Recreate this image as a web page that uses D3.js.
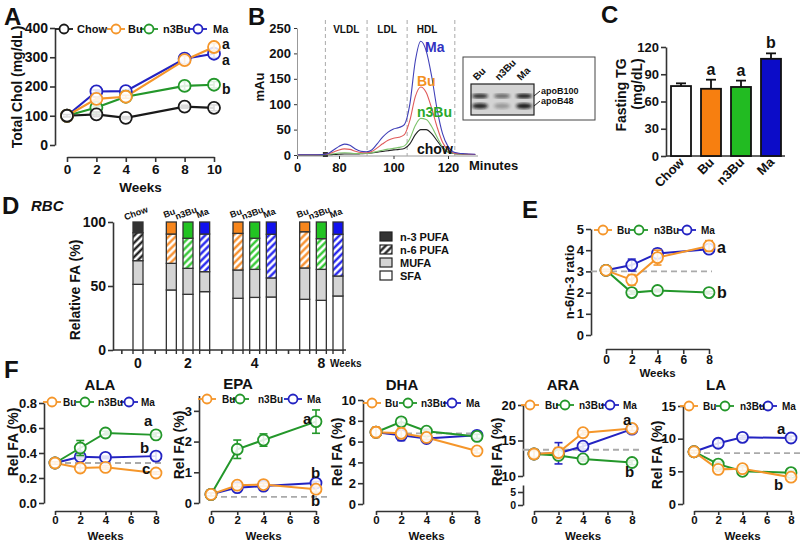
<!DOCTYPE html>
<html><head><meta charset="utf-8">
<script src="https://cdn.jsdelivr.net/npm/d3@7"></script>
<style>
body{margin:0;background:#fff;}
svg text{font-family:Arial,"Liberation Sans",sans-serif;font-weight:bold;}
</style></head><body>
<svg id="c" width="800" height="543"></svg>
<script>
// ---------------- DATA ----------------
// Panel A: total cholesterol
const weeksA = [0, 2, 4, 8, 10];
const cholChow = [100, 105, 93, 131, 127];
const cholBu   = [100, 158, 165, 290, 335];
const cholN3Bu = [100, 128, 165, 202, 206];
const cholMa   = [100, 183, 184, 295, 312];
const cholErrChow = [4, 8, 4, 5, 10];
const cholErrBu   = [4, 6, 5, 14, 12];
const cholErrN3Bu = [4, 5, 5, 15, 11];
const cholErrMa   = [4, 5, 4, 10, 13];

// Panel B: FPLC chromatogram (minutes, mAu)
const minutesB = [65, 70, 74, 76, 78, 80, 82, 84, 86, 88, 90, 92, 94, 96, 98, 100, 102, 104, 106, 108, 110, 112, 114, 116, 118, 120, 122, 124, 126, 130];
const mauMa   = [0.5, 0.5, 1, 3, 10, 17, 21.5, 19, 12, 7.5, 6.5, 10, 22, 35, 45, 51, 54, 60, 100, 185, 224, 205, 155, 90, 42, 17, 6, 3.5, 2.5, 1.5];
const mauBu   = [0.5, 0.5, 1, 2, 6, 10, 12, 11, 7.5, 5, 4.5, 7, 14, 22, 29, 33, 35, 40, 68, 115, 134, 123, 92, 55, 25, 10, 4, 2.5, 2, 1];
const mauN3Bu = [0.3, 0.3, 0.5, 1, 2.5, 4, 4.5, 4, 3, 3, 3, 4.5, 7, 9.5, 11.5, 13, 15, 18, 32, 58, 72, 70, 56, 35, 16, 6, 3, 2, 1.5, 1];
const mauChow = [0.3, 0.3, 0.3, 0.5, 1, 1.5, 2, 2, 2, 2.5, 3, 4, 5.5, 7, 8.5, 10, 11, 13, 22, 40, 50, 50, 42, 28, 14, 6, 3, 2, 1.5, 1];
const fractionLines = [75, 90.3, 105, 122.5];
const fractionNames = ["VLDL", "LDL", "HDL"];
const xTickValsB = [64.6, 80, 100, 120];
const xTickLabelsB = ["0", "80", "100", "120"];
const yTicksB = [0, 50, 100, 150, 200, 250];
const blotLanes = ["Bu", "n3Bu", "Ma"];
const blotApoB100 = [0.85, 0.55, 0.95];
const blotApoB48  = [0.9, 0.3, 0.95];

// Panel C: fasting TG
const groupsC = ["Chow", "Bu", "n3Bu", "Ma"];
const tgMean = [77, 74, 76, 107];
const tgErr  = [3, 10, 7, 6];
const tgLetters = ["", "a", "a", "b"];

// Panel D: RBC fatty acid composition (%)
const weeksD = ["0", "2", "4", "8"];
const barGroupsD = ["Chow", "Bu", "n3Bu", "Ma", "Bu", "n3Bu", "Ma", "Bu", "n3Bu", "Ma"];
const barWeekD   = [0, 2, 2, 2, 4, 4, 4, 8, 8, 8];
const sfaD   = [51.3, 46.9, 43.5, 45.6, 40.4, 41.1, 41.4, 39.6, 38.8, 42.2];
const mufaD  = [18.5, 20.8, 20.3, 15.6, 22.1, 21.9, 14.9, 24.5, 24.2, 15.6];
const n6D    = [21.8, 22.9, 23.5, 29.4, 28.6, 24.3, 34.1, 28.3, 24.0, 32.6];
const n3D    = [8.4, 9.4, 12.7, 9.4, 8.9, 12.7, 9.6, 7.6, 13.0, 9.6];

// Panel E: n-6/n-3 ratio
const weeksF = [0, 2, 4, 8];
const ratioBu   = [3.05, 2.6, 3.65, 4.2];
const ratioN3Bu = [3.05, 2.0, 2.1, 2.0];
const ratioMa   = [3.05, 3.3, 3.85, 4.05];
const ratioErrBu   = [0.05, 0.25, 0.35, 0.25];
const ratioErrN3Bu = [0.05, 0.08, 0.06, 0.06];
const ratioErrMa   = [0.05, 0.28, 0.2, 0.12];

// Panel F: individual fatty acids (Rel FA %)
const alaBu = [0.32, 0.28, 0.285, 0.24], alaN3Bu = [0.32, 0.44, 0.56, 0.545], alaMa = [0.32, 0.37, 0.365, 0.375];
const alaErrBu = [0.01, 0.03, 0.015, 0.01], alaErrN3Bu = [0.01, 0.06, 0.015, 0.015], alaErrMa = [0.01, 0.02, 0.01, 0.035];
const epaBu = [0.28, 0.58, 0.6, 0.45], epaN3Bu = [0.28, 1.75, 2.05, 2.65], epaMa = [0.28, 0.5, 0.55, 0.65];
const epaErrBu = [0.05, 0.05, 0.05, 0.1], epaErrN3Bu = [0.05, 0.3, 0.2, 0.38], epaErrMa = [0.05, 0.05, 0.05, 0.05];
const dhaBu = [6.9, 6.8, 6.4, 5.1], dhaN3Bu = [6.9, 7.9, 7.0, 6.5], dhaMa = [6.9, 6.6, 6.3, 6.6];
const dhaErrBu = [0.5, 0.5, 0.2, 0.2], dhaErrN3Bu = [0.2, 0.35, 0.2, 0.2], dhaErrMa = [0.2, 0.5, 0.2, 0.2];
const araBu = [13.1, 13.3, 16.1, 16.7], araN3Bu = [13.1, 12.9, 12.4, 11.9], araMa = [13.1, 13.2, 14.2, 16.6];
const araErrBu = [0.5, 0.7, 0.3, 0.3], araErrN3Bu = [0.3, 0.3, 0.3, 0.3], araErrMa = [0.3, 1.5, 0.4, 0.3];
const laBu = [8.0, 5.3, 5.4, 4.1], laN3Bu = [8.0, 6.1, 5.0, 4.8], laMa = [8.0, 9.3, 10.2, 10.1];
const laErrBu = [0.2, 0.3, 0.3, 0.3], laErrN3Bu = [0.2, 0.3, 0.3, 0.3], laErrMa = [0.2, 0.6, 0.3, 0.3];

// ---------------- DRAWING ----------------
const svg = d3.select("#c");
const FONT = 'Arial, "Liberation Sans", sans-serif';
const ORANGE = "#f5962a", GREEN = "#23972a", BLUE = "#2323c2", BLACK = "#1a1a1a";
const AX = "#333";

function styleAxis(sel, fs, sw) {
  sel.attr("font-family", FONT).attr("font-size", fs);
  sel.select(".domain").attr("stroke", AX).attr("stroke-width", sw || 1.6);
  sel.selectAll(".tick line").attr("stroke", AX).attr("stroke-width", sw || 1.6);
  sel.selectAll(".tick text").attr("fill", "#111").style("font-weight", "bold");
}
function txt(x, y, s, o) {
  o = o || {};
  const t = svg.append("text").attr("x", x).attr("y", y).text(s)
    .attr("font-size", o.fs || 12).attr("fill", o.fill || "#111")
    .attr("text-anchor", o.anchor || "start");
  if (o.rot) t.attr("transform", `rotate(${o.rot},${x},${y})`);
  if (o.italic) t.attr("font-style", "italic");
  return t;
}
function panelLetter(x, y, s) { txt(x, y, s, { fs: 24 }); }

function linePanel(o) {
  const g = svg.append("g");
  const x = d3.scaleLinear().domain(o.xDomain).range(o.xRange);
  const y = d3.scaleLinear().domain(o.yDomain).range(o.yRange);
  if (o.brokenAxes) {
    o.brokenAxes.forEach(b => {
      const s = d3.scaleLinear().domain(b.domain).range(b.range);
      const a = g.append("g").attr("transform", `translate(${o.yAxisX},0)`)
        .call(d3.axisLeft(s).tickValues(b.ticks).tickSize(5).tickSizeOuter(0).tickPadding(2));
      styleAxis(a, b.fs || o.fs);
    });
  } else {
    const a = g.append("g").attr("transform", `translate(${o.yAxisX},0)`)
      .call(d3.axisLeft(y).tickValues(o.yTicks).tickFormat(o.yFmt || d3.format("d")).tickSize(5).tickSizeOuter(0).tickPadding(2));
    styleAxis(a, o.fs);
  }
  const xa = g.append("g").attr("transform", `translate(0,${o.xAxisY})`)
    .call(d3.axisBottom(x).tickValues(o.xTicks).tickSize(o.xTick || 5).tickSizeOuter(0).tickPadding(o.xPad != null ? o.xPad : 3));
  styleAxis(xa, o.xfs || o.fs);
  txt((o.xRange[0] + o.xRange[1]) / 2, o.weeksY, "Weeks", { fs: o.wfs || 13, anchor: "middle" });
  txt(o.yTitleX, o.yTitleY, o.yTitle, { fs: o.tfs || 13, anchor: "middle", rot: -90 });
  if (o.title) txt(o.title[0], o.title[1], o.title[2], { fs: 15, anchor: "middle" });
  if (o.dash != null) {
    g.append("line").attr("x1", o.dashX[0]).attr("x2", o.dashX[1])
      .attr("y1", y(o.dash)).attr("y2", y(o.dash))
      .attr("stroke", "#aaa").attr("stroke-width", 1.8).attr("stroke-dasharray", "6,4");
  }
  const line = d3.line().x((d, i) => x(o.xs[i])).y(d => y(d));
  o.series.forEach(s => {
    g.append("path").datum(s.values).attr("d", line).attr("fill", "none")
      .attr("stroke", s.color).attr("stroke-width", o.lw || 2);
  });
  o.series.forEach(s => {
    s.values.forEach((v, i) => {
      const e = s.errors[i], cx = x(o.xs[i]);
      g.append("line").attr("x1", cx).attr("x2", cx).attr("y1", y(v - e)).attr("y2", y(v + e))
        .attr("stroke", s.color).attr("stroke-width", 1.6);
      [v - e, v + e].forEach(w => g.append("line").attr("x1", cx - 4).attr("x2", cx + 4)
        .attr("y1", y(w)).attr("y2", y(w)).attr("stroke", s.color).attr("stroke-width", 1.6));
    });
    g.selectAll(null).data(s.values).enter().append("circle")
      .attr("cx", (d, i) => x(o.xs[i])).attr("cy", d => y(d)).attr("r", o.r || 5.5)
      .attr("fill", "#fff").attr("fill-opacity", 0.85).attr("stroke", s.color).attr("stroke-width", 1.8);
  });
  (o.letters || []).forEach(L => txt(L[0], L[1], L[2], { fs: o.lfs || 15 }));
  // legend
  o.legend.forEach(L => {
    g.append("line").attr("x1", L.cx - 9).attr("x2", L.cx + 9).attr("y1", o.legendY).attr("y2", o.legendY)
      .attr("stroke", L.color).attr("stroke-width", 1.8);
    g.append("circle").attr("cx", L.cx).attr("cy", o.legendY).attr("r", 4.5).attr("fill", "#fff")
      .attr("stroke", L.color).attr("stroke-width", 1.8);
    txt(L.tx, o.legendY + 4, L.name, { fs: o.legfs || 10 });
  });
  return { x, y };
}

// ---------- Panel A ----------
panelLetter(4, 25, "A");
linePanel({
  xDomain: [0, 10], xRange: [67, 214], yDomain: [0, 400], yRange: [145, 28],
  yAxisX: 55, xAxisY: 157, yTicks: [0, 100, 200, 300, 400], xTicks: [0, 2, 4, 6, 8, 10],
  fs: 14, xfs: 13.5, xPad: 2, weeksY: 192, wfs: 13.5, yTitle: "Total Chol (mg/dL)", yTitleX: 22, yTitleY: 87, tfs: 14,
  xs: weeksA, r: 6, lw: 2.2,
  series: [
    { color: BLUE, values: cholMa, errors: cholErrMa },
    { color: GREEN, values: cholN3Bu, errors: cholErrN3Bu },
    { color: ORANGE, values: cholBu, errors: cholErrBu },
    { color: BLACK, values: cholChow, errors: cholErrChow }
  ],
  letters: [[222, 49, "a"], [222, 65, "a"], [222, 94, "b"]], lfs: 14,
  legendY: 29, legfs: 11,
  legend: [
    { cx: 64, tx: 77, name: "Chow", color: BLACK },
    { cx: 116, tx: 128, name: "Bu", color: ORANGE },
    { cx: 149, tx: 163, name: "n3Bu", color: GREEN },
    { cx: 198, tx: 213, name: "Ma", color: BLUE }
  ]
});

// ---------- Panel B ----------
panelLetter(248, 25, "B");
(function () {
  const g = svg.append("g");
  const x = d3.scaleLinear().domain([80, 120]).range([339, 448]);
  const y = d3.scaleLinear().domain([0, 250]).range([155, 28]);
  const ya = g.append("g").attr("transform", "translate(297,0)")
    .call(d3.axisLeft(y).tickValues(yTicksB).tickSize(3).tickSizeOuter(0).tickPadding(3));
  styleAxis(ya, 13, 1);
  ya.select(".domain").attr("stroke", "#999");
  const xa = g.append("g").attr("transform", "translate(0,156)")
    .call(d3.axisBottom(x).tickValues(xTickValsB).tickFormat((d, i) => xTickLabelsB[i]).tickSize(3).tickSizeOuter(0).tickPadding(4));
  styleAxis(xa, 13, 1);
  xa.select(".domain").attr("stroke", "#999").attr("d", `M297,0H478`);
  txt(469, 170, "Minutes", { fs: 13 });
  txt(264, 87, "mAu", { fs: 13, anchor: "middle", rot: -90 });
  fractionLines.forEach(m => g.append("line").attr("x1", x(m)).attr("x2", x(m)).attr("y1", 20).attr("y2", 156)
    .attr("stroke", "#aaa").attr("stroke-width", 1).attr("stroke-dasharray", "4,3"));
  fractionNames.forEach((n, i) => txt((x(fractionLines[i]) + x(fractionLines[i + 1])) / 2 - (i === 2 ? 4 : 0), 33, n, { fs: 10, anchor: "middle" }));
  g.append("rect").attr("x", x(75) - 2.5).attr("y", y(0) - 3).attr("width", 5).attr("height", 5).attr("fill", "#333");
  const line = d3.line().x((d, i) => x(minutesB[i])).y(d => y(d)).curve(d3.curveMonotoneX);
  [[mauChow, "#222"], [mauN3Bu, "#7cc26a"], [mauBu, "#e05a5a"], [mauMa, "#4040b8"]].forEach(s =>
    g.append("path").datum(s[0]).attr("d", line).attr("fill", "none").attr("stroke", s[1]).attr("stroke-width", 1.1));
  txt(425, 52, "Ma", { fs: 14, fill: "#3232c0" });
  txt(417, 86, "Bu", { fs: 14, fill: "#f39020" });
  txt(417, 117, "n3Bu", { fs: 14, fill: "#2aa82a" });
  txt(417, 154, "chow", { fs: 14, fill: "#111" });
  // inset western blot
  const defs = svg.append("defs");
  defs.append("filter").attr("id", "blur").append("feGaussianBlur").attr("stdDeviation", 1.4);
  g.append("rect").attr("x", 463).attr("y", 57).attr("width", 132).attr("height", 63)
    .attr("fill", "#fff").attr("stroke", "#444").attr("stroke-width", 1);
  g.append("rect").attr("x", 471).attr("y", 84).attr("width", 63).attr("height", 31)
    .attr("fill", "#d4d4d4").attr("stroke", "#222").attr("stroke-width", 1.2);
  const lx = d3.scalePoint().domain(blotLanes).range([480, 524]);
  blotLanes.forEach((l, i) => {
    g.append("ellipse").attr("cx", lx(l)).attr("cy", 96).attr("rx", 8).attr("ry", 2.3)
      .attr("fill", "#111").attr("opacity", blotApoB100[i]).attr("filter", "url(#blur)");
    g.append("ellipse").attr("cx", lx(l)).attr("cy", 106).attr("rx", 8).attr("ry", 2.8)
      .attr("fill", "#111").attr("opacity", blotApoB48[i]).attr("filter", "url(#blur)");
    txt(lx(l) - 3, 81, l, { fs: 10, rot: -45 });
  });
  g.append("line").attr("x1", 534).attr("x2", 540).attr("y1", 96).attr("y2", 91).attr("stroke", "#222");
  g.append("line").attr("x1", 534).attr("x2", 540).attr("y1", 106).attr("y2", 101).attr("stroke", "#222");
  txt(541, 94, "apoB100", { fs: 9 });
  txt(541, 104, "apoB48", { fs: 9 });
})();

// ---------- Panel C ----------
panelLetter(601, 23, "C");
(function () {
  const g = svg.append("g");
  const x = d3.scalePoint().domain(groupsC).range([681, 771]);
  const y = d3.scaleLinear().domain([0, 120]).range([156, 47]);
  const cols = ["#fff", "#f77f10", "#22bb22", "#0c0cc8"];
  const ya = g.append("g").attr("transform", "translate(666,0)")
    .call(d3.axisLeft(y).tickValues([0, 30, 60, 90, 120]).tickSize(5).tickSizeOuter(0).tickPadding(2));
  styleAxis(ya, 13);
  g.append("line").attr("x1", 666).attr("x2", 785).attr("y1", 156).attr("y2", 156).attr("stroke", AX).attr("stroke-width", 1.6);
  groupsC.forEach((c, i) => {
    const cx = x(c);
    g.append("line").attr("x1", cx).attr("x2", cx).attr("y1", y(tgMean[i])).attr("y2", y(tgMean[i] + tgErr[i])).attr("stroke", "#111").attr("stroke-width", 1.8);
    g.append("line").attr("x1", cx - 5).attr("x2", cx + 5).attr("y1", y(tgMean[i] + tgErr[i])).attr("y2", y(tgMean[i] + tgErr[i])).attr("stroke", "#111").attr("stroke-width", 1.8);
    g.append("rect").attr("x", cx - 10).attr("y", y(tgMean[i])).attr("width", 20).attr("height", y(0) - y(tgMean[i]))
      .attr("fill", cols[i]).attr("stroke", "#111").attr("stroke-width", 1.8);
    if (tgLetters[i]) txt(cx, y(tgMean[i] + tgErr[i]) - 5, tgLetters[i], { fs: 16, anchor: "middle" });
    txt(cx + 4, 163, c, { fs: 13, anchor: "end", rot: -45 });
  });
  txt(626, 95, "Fasting TG", { fs: 14, anchor: "middle", rot: -90 });
  txt(642, 84, "(mg/dL)", { fs: 14, anchor: "middle", rot: -90 });
})();

// ---------- Panel D ----------
panelLetter(2, 214, "D");
txt(31, 211, "RBC", { fs: 15, italic: true });
(function () {
  const g = svg.append("g");
  const x = d3.scaleLinear().domain([0, 12]).range([138, 338]);
  const y = d3.scaleLinear().domain([0, 100]).range([350, 222]);
  const pos = [0, 2, 3, 4, 6, 7, 8, 10, 11, 12];
  const colOf = { Chow: "#333", Bu: "#f7861c", n3Bu: "#22c322", Ma: "#1212ee" };
  const hatchOf = { Chow: "#111", Bu: "#f7861c", n3Bu: "#22c322", Ma: "#1212ee" };
  const defs = svg.append("defs");
  Object.keys(hatchOf).forEach(k => {
    const p = defs.append("pattern").attr("id", "h" + k).attr("patternUnits", "userSpaceOnUse")
      .attr("width", 5).attr("height", 5).attr("patternTransform", "rotate(45)");
    p.append("rect").attr("width", 5).attr("height", 5).attr("fill", "#fff");
    p.append("line").attr("x1", 1.5).attr("x2", 1.5).attr("y1", 0).attr("y2", 5).attr("stroke", hatchOf[k]).attr("stroke-width", 2.2);
  });
  const ya = g.append("g").attr("transform", "translate(113,0)")
    .call(d3.axisLeft(y).tickValues([0, 50, 100]).tickSize(5).tickSizeOuter(0).tickPadding(2));
  styleAxis(ya, 14);
  const xa = g.append("g").attr("transform", "translate(0,350)")
    .call(d3.axisBottom(x).tickValues([-1, 1, 5, 9]).tickFormat("").tickSize(4).tickSizeOuter(0));
  styleAxis(xa, 14);
  xa.select(".domain").attr("d", `M113,0H346`);
  pos.forEach(p => [-0.3, 0.3].forEach(d => g.append("line").attr("x1", x(p + d)).attr("x2", x(p + d))
    .attr("y1", 350).attr("y2", 354).attr("stroke", AX).attr("stroke-width", 1.4)));
  const weekPos = [0, 3, 7, 11];
  weeksD.forEach((w, i) => txt(x(weekPos[i]), 368, w, { fs: 14, anchor: "middle" }));
  txt(330, 367, "Weeks", { fs: 10 });
  txt(80, 290, "Relative FA (%)", { fs: 14, anchor: "middle", rot: -90 });
  barGroupsD.forEach((grp, i) => {
    const cx = x(pos[i]), w = 10;
    const layers = [[sfaD[i], "#fff"], [mufaD[i], "#d4d4d4"], [n6D[i], `url(#h${grp})`], [n3D[i], colOf[grp]]];
    let acc = 0;
    layers.forEach(L => {
      g.append("rect").attr("x", cx - w / 2).attr("y", y(acc + L[0])).attr("width", w)
        .attr("height", y(acc) - y(acc + L[0])).attr("fill", L[1]).attr("stroke", "#333").attr("stroke-width", 1.3);
      acc += L[0];
    });
    txt(cx - 1, 216, grp, { fs: 9, anchor: "middle", rot: -20 });
  });
  // legend
  const leg = [["n-3 PUFA", "#333"], ["n-6 PUFA", "url(#hChow)"], ["MUFA", "#d4d4d4"], ["SFA", "#fff"]];
  leg.forEach((L, i) => {
    const yy = 232 + i * 13;
    g.append("rect").attr("x", 380).attr("y", yy).attr("width", 12).attr("height", 9)
      .attr("fill", L[1]).attr("stroke", "#222").attr("stroke-width", 1.2);
    txt(400, yy + 9, L[0], { fs: 11 });
  });
})();

// ---------- Panel E ----------
panelLetter(522, 218, "E");
linePanel({
  xDomain: [0, 8], xRange: [606, 709], yDomain: [0, 5], yRange: [335, 229],
  yAxisX: 591, xAxisY: 349, yTicks: [0, 1, 2, 3, 4, 5], xTicks: [0, 2, 4, 6, 8],
  fs: 13, xfs: 12, xPad: 1, weeksY: 377, wfs: 11.5, yTitle: "n-6/n-3 ratio", yTitleX: 574, yTitleY: 282, tfs: 13,
  xs: weeksF, r: 5.5, lw: 2,
  dash: 3, dashX: [591, 712],
  series: [
    { color: BLUE, values: ratioMa, errors: ratioErrMa },
    { color: GREEN, values: ratioN3Bu, errors: ratioErrN3Bu },
    { color: ORANGE, values: ratioBu, errors: ratioErrBu }
  ],
  letters: [[717, 253, "a"], [717, 298, "b"]], lfs: 16,
  legendY: 230, legfs: 10,
  legend: [
    { cx: 603, tx: 617, name: "Bu", color: ORANGE },
    { cx: 639, tx: 654, name: "n3Bu", color: GREEN },
    { cx: 687, tx: 701, name: "Ma", color: BLUE }
  ]
});

// ---------- Panel F ----------
panelLetter(4, 378, "F");
function fLegend(cs) {
  return [
    { cx: cs[0], tx: cs[1], name: "Bu", color: ORANGE },
    { cx: cs[2], tx: cs[3], name: "n3Bu", color: GREEN },
    { cx: cs[4], tx: cs[5], name: "Ma", color: BLUE }
  ];
}
function fSeries(bu, n3, ma, ebu, en3, ema) {
  return [
    { color: BLUE, values: ma, errors: ema },
    { color: GREEN, values: n3, errors: en3 },
    { color: ORANGE, values: bu, errors: ebu }
  ];
}
const FX = { xfs: 11.5, xPad: 1, xTick: 4, xAxisY: 511, weeksY: 539.5, wfs: 11.5, fs: 13, tfs: 14, lw: 2 };
// ALA
linePanel(Object.assign({}, FX, {
  xDomain: [0, 8], xRange: [55, 156], yDomain: [0, 0.8], yRange: [503, 403],
  yAxisX: 44, yTicks: [0, 0.2, 0.4, 0.6, 0.8], yFmt: d3.format(".1f"), xTicks: [0, 2, 4, 6, 8],
  yTitle: "Rel FA (%)", yTitleX: 18, yTitleY: 442,
  title: [100, 390, "ALA"], xs: weeksF,
  dash: 0.32, dashX: [55, 162],
  series: fSeries(alaBu, alaN3Bu, alaMa, alaErrBu, alaErrN3Bu, alaErrMa),
  letters: [[144, 426, "a"], [140, 453, "b"], [142, 474, "c"]],
  legendY: 402, legend: fLegend([52, 63, 85, 98, 129, 141])
}));
// EPA
linePanel(Object.assign({}, FX, {
  xDomain: [0, 8], xRange: [211, 316], yDomain: [0, 3.5], yRange: [503, 395.5],
  yAxisX: 199, yTicks: [0, 1, 2, 3], xTicks: [0, 2, 4, 6, 8],
  yTitle: "Rel FA (%)", yTitleX: 184, yTitleY: 445,
  title: [238, 389, "EPA"], xs: weeksF,
  dash: 0.2, dashX: [211, 330],
  series: fSeries(epaBu, epaN3Bu, epaMa, epaErrBu, epaErrN3Bu, epaErrMa),
  letters: [[303, 424, "a"], [311, 478, "b"], [311, 506, "b"]],
  legendY: 399, legend: fLegend([207, 222, 240, 258, 293, 307])
}));
// DHA
linePanel(Object.assign({}, FX, {
  xDomain: [0, 8], xRange: [376, 477], yDomain: [0, 10], yRange: [504, 400],
  yAxisX: 363, yTicks: [0, 2, 4, 6, 8, 10], xTicks: [0, 2, 4, 6, 8],
  yTitle: "Rel FA (%)", yTitleX: 342, yTitleY: 452,
  title: [402, 390, "DHA"], xs: weeksF,
  dash: 6.8, dashX: [376, 482],
  series: fSeries(dhaBu, dhaN3Bu, dhaMa, dhaErrBu, dhaErrN3Bu, dhaErrMa),
  legendY: 403, legend: fLegend([372, 385, 408, 421, 452, 466])
}));
// ARA (broken y axis)
linePanel(Object.assign({}, FX, {
  xDomain: [0, 8], xRange: [534, 632], yDomain: [10, 20], yRange: [476, 405],
  yAxisX: 523, xTicks: [0, 2, 4, 6, 8],
  brokenAxes: [
    { domain: [10, 20], range: [476, 405], ticks: [10, 15, 20] },
    { domain: [0, 7.7], range: [505, 485], ticks: [0, 5], fs: 10.5 }
  ],
  yTitle: "Rel FA (%)", yTitleX: 502, yTitleY: 452,
  title: [563, 390, "ARA"], xs: weeksF,
  dash: 13.7, dashX: [523, 640],
  series: fSeries(araBu, araN3Bu, araMa, araErrBu, araErrN3Bu, araErrMa),
  letters: [[623, 425, "a"], [625, 477, "b"]],
  legendY: 405, legend: fLegend([530, 545, 565, 579, 610, 623])
}));
// LA
linePanel(Object.assign({}, FX, {
  xDomain: [0, 8], xRange: [694, 791], yDomain: [0, 15], yRange: [504, 406],
  yAxisX: 683, yTicks: [0, 5, 10, 15], xTicks: [0, 2, 4, 6, 8],
  yTitle: "Rel FA (%)", yTitleX: 662, yTitleY: 455,
  title: [716, 390, "LA"], xs: weeksF,
  dash: 7.8, dashX: [694, 800],
  series: fSeries(laBu, laN3Bu, laMa, laErrBu, laErrN3Bu, laErrMa),
  letters: [[777, 434, "a"], [774, 490, "b"]],
  legendY: 406, legend: fLegend([689, 703, 725, 740, 768, 782])
}));
</script></body></html>
